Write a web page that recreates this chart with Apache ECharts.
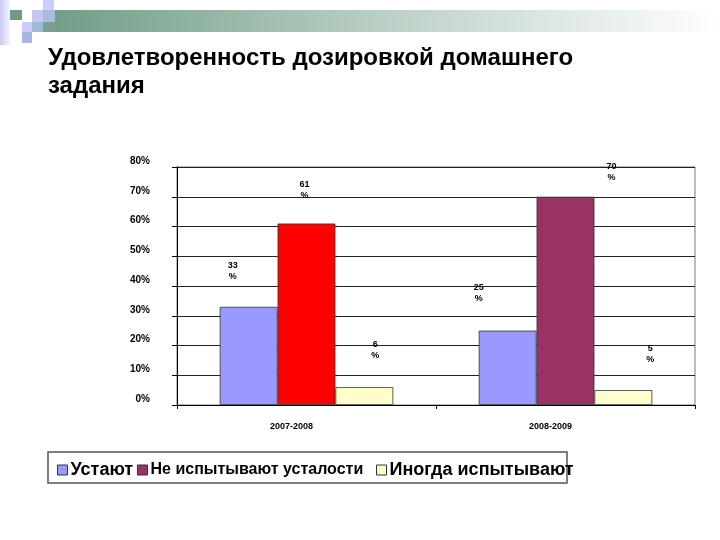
<!DOCTYPE html>
<html>
<head>
<meta charset="utf-8">
<script src="https://cdn.jsdelivr.net/npm/echarts@6/dist/echarts.min.js"></script>
<style>html,body{margin:0;padding:0;background:#fff;}#c{width:720px;height:540px;}</style>
</head>
<body>
<div id="c"></div>
<script>
const categories = ['2007-2008', '2008-2009'];
const seriesNames = ['Устают', 'Не испытывают усталости', 'Иногда испытывают'];
const tired = [33, 25];
const notTired = [61, 70];
const sometimes = [6, 5];
const yTicks = [0, 10, 20, 30, 40, 50, 60, 70, 80];
const titleText = 'Удовлетворенность дозировкой домашнего\nзадания';

const FONT = 'Liberation Sans, Arial, sans-serif';
const colors = ['#9999FF', '#993366', '#FFFFCC'];
// label offsets (style only)
const offs = [
  [[-16, -25], [-29, -27]],
  [[-2, -23], [46, -14]],
  [[11, -26], [27, -25]]
];

const chart = echarts.init(document.getElementById('c'), null, {renderer: 'canvas'});
function mk(idx, vals) {
  return {
    name: seriesNames[idx],
    type: 'bar',
    barGap: '0%',
    barCategoryGap: '33%',
    itemStyle: {color: colors[idx], borderColor: '#333', borderWidth: 0.8},
    data: vals.map((v, i) => {
      const d = {
        value: v,
        label: {show: true, position: 'top', distance: 0, offset: offs[idx][i],
          formatter: '{c}\n%', fontFamily: FONT, fontSize: 9, fontWeight: 'bold', color: '#000', lineHeight: 11, align: 'center'}
      };
      if (idx === 1 && i === 0) d.itemStyle = {color: '#FF0000'};
      return d;
    })
  };
}
const legendBase = {
  top: 456, itemWidth: 10, itemHeight: 10, icon: 'rect',
  itemStyle: {borderColor: '#333', borderWidth: 1}, selectedMode: false,
  textStyle: {fontFamily: FONT, fontWeight: 'bold', color: '#000', padding: [0, 0, 0, -2]}
};
chart.setOption({
  animation: false,
  backgroundColor: '#fff',
  title: {
    text: titleText, left: 43, top: 39,
    textStyle: {fontFamily: FONT, fontSize: 24, fontWeight: 'bold', color: '#000', lineHeight: 28}
  },
  graphic: [
    {type: 'rect', shape: {x: 32, y: 10, width: 688, height: 22}, z: -1,
      style: {fill: new echarts.graphic.LinearGradient(0, 0, 1, 0, [
        {offset: 0, color: '#6d9a84'}, {offset: 0.5, color: '#b9cfc4'}, {offset: 1, color: '#ffffff'}])}},
    {type: 'rect', shape: {x: 0, y: 0, width: 10, height: 45},
      style: {fill: new echarts.graphic.LinearGradient(0, 0, 1, 0, [
        {offset: 0, color: '#c9c9f5'}, {offset: 1, color: '#f4f4ff'}])}},
    {type: 'rect', shape: {x: 10, y: 10, width: 12, height: 10}, style: {fill: '#6f9a85'}},
    {type: 'rect', shape: {x: 43, y: 0, width: 11, height: 10}, style: {fill: '#ccccff'}},
    {type: 'rect', shape: {x: 32, y: 10, width: 11, height: 12}, style: {fill: '#c4c6ef'}},
    {type: 'rect', shape: {x: 43, y: 10, width: 12, height: 12}, style: {fill: '#a9bde0'}},
    {type: 'rect', shape: {x: 22, y: 22, width: 10, height: 10}, style: {fill: '#ccccff'}},
    {type: 'rect', shape: {x: 32, y: 22, width: 11, height: 10}, style: {fill: '#9fb9d8'}},
    {type: 'rect', shape: {x: 43, y: 22, width: 12, height: 10}, style: {fill: '#7aa08e'}},
    {type: 'rect', shape: {x: 22, y: 32, width: 10, height: 11}, style: {fill: '#a4b8e0'}},
    {type: 'rect', shape: {x: 48, y: 452, width: 519, height: 31},
      style: {fill: 'none', stroke: '#555', lineWidth: 1.5}}
  ],
  legend: [
    Object.assign({}, legendBase, {left: 52, data: [{name: seriesNames[0], textStyle: {fontSize: 18}}]}),
    Object.assign({}, legendBase, {left: 132, top: 457, data: [{name: seriesNames[1], textStyle: {fontSize: 16}}]}),
    Object.assign({}, legendBase, {left: 371, data: [{name: seriesNames[2], textStyle: {fontSize: 18}}]})
  ],
  grid: {left: 177, right: 25, top: 167, bottom: 135, show: true, borderColor: '#777', borderWidth: 1},
  xAxis: {
    type: 'category', data: categories,
    axisLine: {lineStyle: {color: '#000', width: 1}},
    axisTick: {show: true, length: 4, lineStyle: {color: '#000'}},
    axisLabel: {fontFamily: FONT, fontSize: 9, fontWeight: 'bold', color: '#000', margin: 17, padding: [0, 30, 0, 0]}
  },
  yAxis: {
    type: 'value', min: 0, max: 80, interval: 10,
    axisLine: {show: true, lineStyle: {color: '#000', width: 1}},
    axisTick: {show: true, length: 5, lineStyle: {color: '#000'}},
    splitLine: {lineStyle: {color: '#222', width: 1.2}},
    axisLabel: {formatter: '{value}%', fontFamily: FONT, fontSize: 10, fontWeight: 'bold', color: '#000', margin: 27, verticalAlign: 'bottom', padding: [0, 0, 1, 0]}
  },
  series: [mk(0, tired), mk(1, notTired), mk(2, sometimes)]
});
</script>
</body>
</html>
